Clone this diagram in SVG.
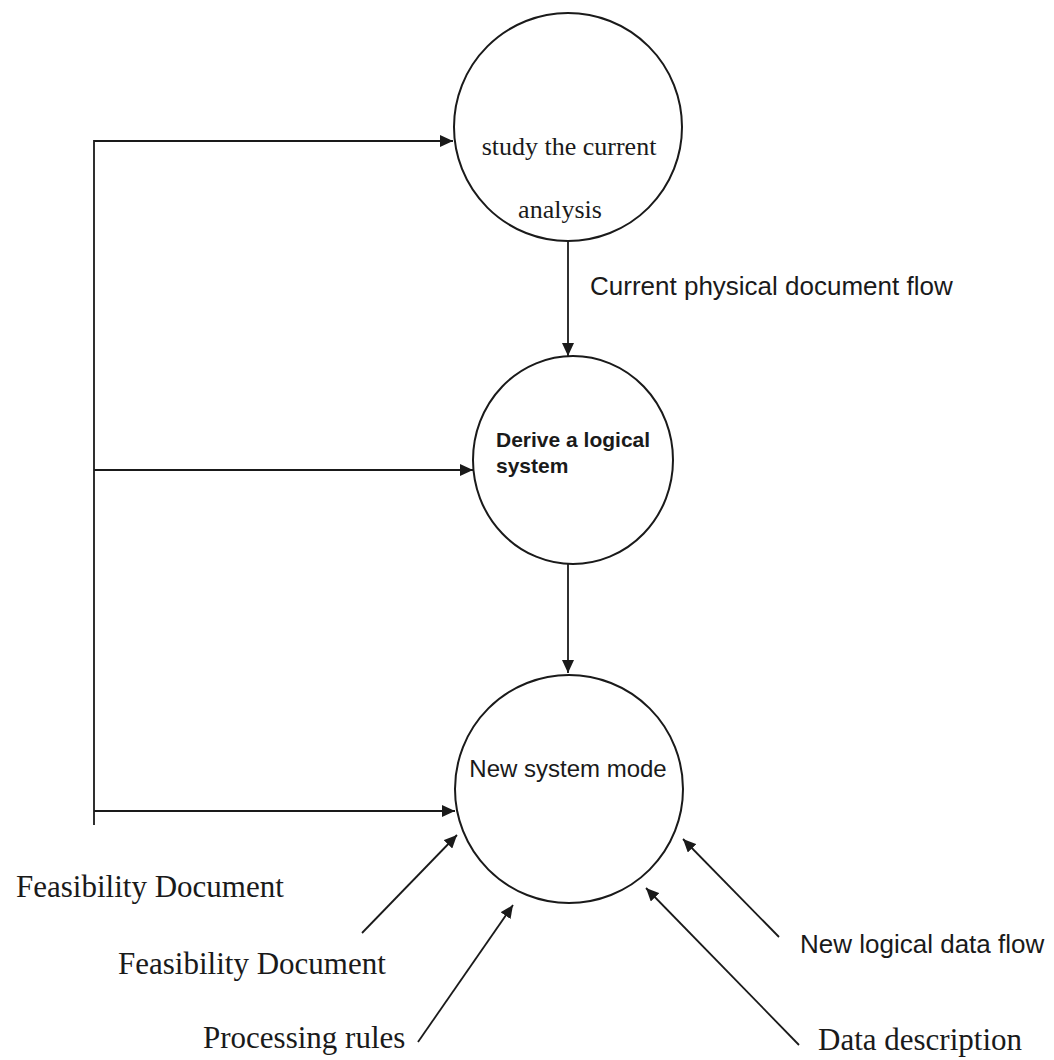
<svg xmlns="http://www.w3.org/2000/svg" width="1054" height="1060" viewBox="0 0 1054 1060">
<style>
.node{fill:#fff;stroke:#1a1a1a;stroke-width:2}
.edge{fill:none;stroke:#1a1a1a;stroke-width:1.8}
.serif{font-family:"Liberation Serif","Times New Roman",serif;fill:#1a1a1a}
.sans{font-family:"Liberation Sans",Arial,sans-serif;fill:#1a1a1a}
</style>
<defs>
<marker id="ah" markerUnits="userSpaceOnUse" markerWidth="14" markerHeight="12" refX="13" refY="6" orient="auto">
<path d="M0,0 L13,6 L0,12 z" fill="#1a1a1a"/>
</marker>
</defs>
<rect width="1054" height="1060" fill="#fff"/>
<g id="connectors">
<polyline class="edge" points="94,825 94,141 453,141" marker-end="url(#ah)"/>
<line class="edge" x1="94" y1="470" x2="473" y2="470" marker-end="url(#ah)"/>
<line class="edge" x1="94" y1="811" x2="455" y2="811" marker-end="url(#ah)"/>
<line class="edge" x1="568" y1="241" x2="568" y2="356" marker-end="url(#ah)"/>
<line class="edge" x1="568" y1="564" x2="568" y2="673" marker-end="url(#ah)"/>
<line class="edge" x1="362" y1="933" x2="457" y2="835" marker-end="url(#ah)"/>
<line class="edge" x1="418" y1="1042" x2="513" y2="905" marker-end="url(#ah)"/>
<line class="edge" x1="799" y1="1045" x2="646" y2="888" marker-end="url(#ah)"/>
<line class="edge" x1="779" y1="937" x2="683" y2="839" marker-end="url(#ah)"/>
</g>
<g id="node-study">
<circle class="node" cx="568" cy="127" r="114"/>
<text class="serif" font-size="26" x="569" y="155" text-anchor="middle">study the current</text>
<text class="serif" font-size="26" x="560" y="218" text-anchor="middle">analysis</text>
</g>
<g id="node-derive">
<ellipse class="node" cx="573" cy="460" rx="100" ry="104"/>
<text class="sans" font-size="21" font-weight="bold" x="496" y="447">Derive a logical</text>
<text class="sans" font-size="21" font-weight="bold" x="496" y="473">system</text>
</g>
<g id="node-new">
<circle class="node" cx="569" cy="789" r="114"/>
<text class="sans" font-size="24" x="568" y="777" text-anchor="middle">New system mode</text>
</g>
<g id="labels">
<text class="sans" font-size="26" x="590" y="295">Current physical document flow</text>
<text class="serif" font-size="31" x="16" y="897">Feasibility Document</text>
<text class="serif" font-size="31" x="118" y="974">Feasibility Document</text>
<text class="serif" font-size="31" x="203" y="1048">Processing rules</text>
<text class="sans" font-size="26" x="800" y="953">New logical data flow</text>
<text class="serif" font-size="31" x="818" y="1050">Data description</text>
</g>
</svg>
